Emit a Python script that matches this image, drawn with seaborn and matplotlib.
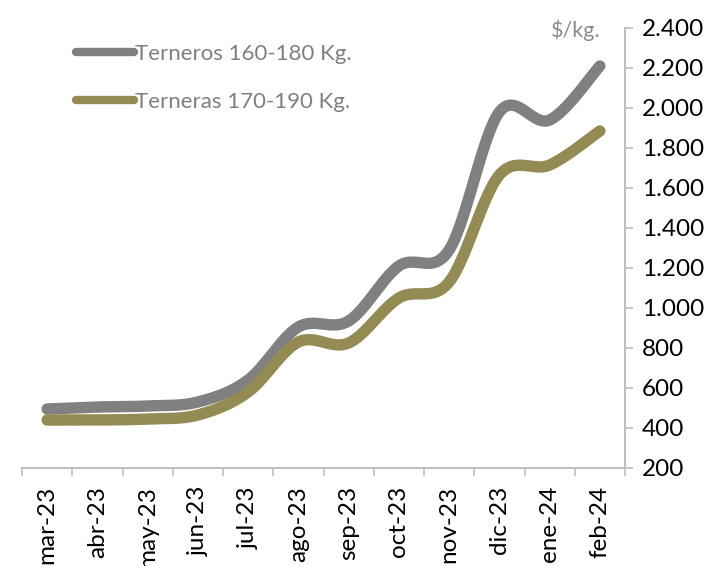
import numpy as np
import pandas as pd
import matplotlib
matplotlib.use("Agg")
import matplotlib.pyplot as plt
import seaborn as sns
from matplotlib.lines import Line2D

months = ["mar-23", "abr-23", "may-23", "jun-23", "jul-23", "ago-23",
          "sep-23", "oct-23", "nov-23", "dic-23", "ene-24", "feb-24"]
terneros = [495, 505, 510, 530, 640, 905, 935, 1210, 1290, 1980, 1940, 2210]
terneras = [440, 440, 445, 465, 580, 830, 825, 1050, 1130, 1665, 1715, 1885]
series_names = ["Terneros 160-180 Kg.", "Terneras 170-190 Kg."]
yticks = list(range(200, 2401, 200))
unit_label = "$/kg."

GRAY = "#808080"
OLIVE = "#948A54"
AXIS = "#BFBFBF"

sns.set_style("white")
plt.rcParams["font.family"] = ["Lato", "DejaVu Sans"]


def smooth(values, n=30):
    """Excel-style smoothed line (Catmull-Rom Bezier) through the data points."""
    x = np.arange(len(values), dtype=float)
    y = np.asarray(values, dtype=float)
    px = np.concatenate([[x[0]], x, [x[-1]]])
    py = np.concatenate([[y[0]], y, [y[-1]]])
    xs, ys = [], []
    t = np.linspace(0, 1, n)
    for i in range(len(values) - 1):
        p0x, p3x = px[i + 1], px[i + 2]
        p0y, p3y = py[i + 1], py[i + 2]
        p1x = p0x + (px[i + 2] - px[i]) / 6
        p1y = p0y + (py[i + 2] - py[i]) / 6
        p2x = p3x - (px[i + 3] - px[i + 1]) / 6
        p2y = p3y - (py[i + 3] - py[i + 1]) / 6
        bx = (1 - t) ** 3 * p0x + 3 * (1 - t) ** 2 * t * p1x + 3 * (1 - t) * t ** 2 * p2x + t ** 3 * p3x
        by = (1 - t) ** 3 * p0y + 3 * (1 - t) ** 2 * t * p1y + 3 * (1 - t) * t ** 2 * p2y + t ** 3 * p3y
        if i > 0:
            bx, by = bx[1:], by[1:]
        xs.extend(bx)
        ys.extend(by)
    return pd.DataFrame({"x": xs, "y": ys})


W, H = 726, 566
fig = plt.figure(figsize=(W / 100, H / 100), dpi=100)
ax = fig.add_axes([22 / W, 1 - 468 / H, (625 - 22) / W, (468 - 28) / H])

for vals, col in [(terneros, GRAY), (terneras, OLIVE)]:
    df = smooth(vals)
    sns.lineplot(data=df, x="x", y="y", sort=False, estimator=None, ax=ax,
                 color=col, linewidth=8.2, solid_capstyle="round", solid_joinstyle="round")

ax.set_xlim(-0.5, len(months) - 0.5)
ax.set_ylim(200, 2400)
ax.set_xlabel("")
ax.set_ylabel("")

# x axis: labels at centres, tick marks at boundaries
ax.set_xticks(range(len(months)))
ax.set_xticklabels(months, rotation=90, fontsize=17.5, color="black")
ax.set_xticks(np.arange(-0.5, len(months), 1.0), minor=True)
ax.tick_params(axis="x", which="major", length=0, pad=13)
ax.tick_params(axis="x", which="minor", length=6, width=1.2, color=AXIS, bottom=True)

# y axis on the right
ax.yaxis.tick_right()
ax.set_yticks(yticks)
ax.set_yticklabels([f"{v:,}".replace(",", ".") for v in yticks], fontsize=17.5, color="black")
ax.tick_params(axis="y", which="major", length=6, width=1.2, color=AXIS, pad=6, right=True, left=False)

for s in ["top", "left"]:
    ax.spines[s].set_visible(False)
for s in ["right", "bottom"]:
    ax.spines[s].set_visible(True)
    ax.spines[s].set_color(AXIS)
    ax.spines[s].set_linewidth(1.5)
ax.grid(False)

handles = [Line2D([0], [0], color=GRAY, lw=6, solid_capstyle="round"),
           Line2D([0], [0], color=OLIVE, lw=6, solid_capstyle="round")]
leg = ax.legend(handles, series_names, loc="upper left",
                bbox_to_anchor=(76 / W, 1 - 44 / H), bbox_transform=fig.transFigure,
                frameon=False, fontsize=16, handlelength=2.6, handletextpad=0.05,
                labelspacing=1.25, borderpad=0, borderaxespad=0)
for t in leg.get_texts():
    t.set_color("#7F7F7F")

fig.text(601 / W, 1 - 30 / H, unit_label, ha="right", va="center",
         fontsize=15.5, color="#8C8C8C")

fig.savefig("out.png", dpi=100)
